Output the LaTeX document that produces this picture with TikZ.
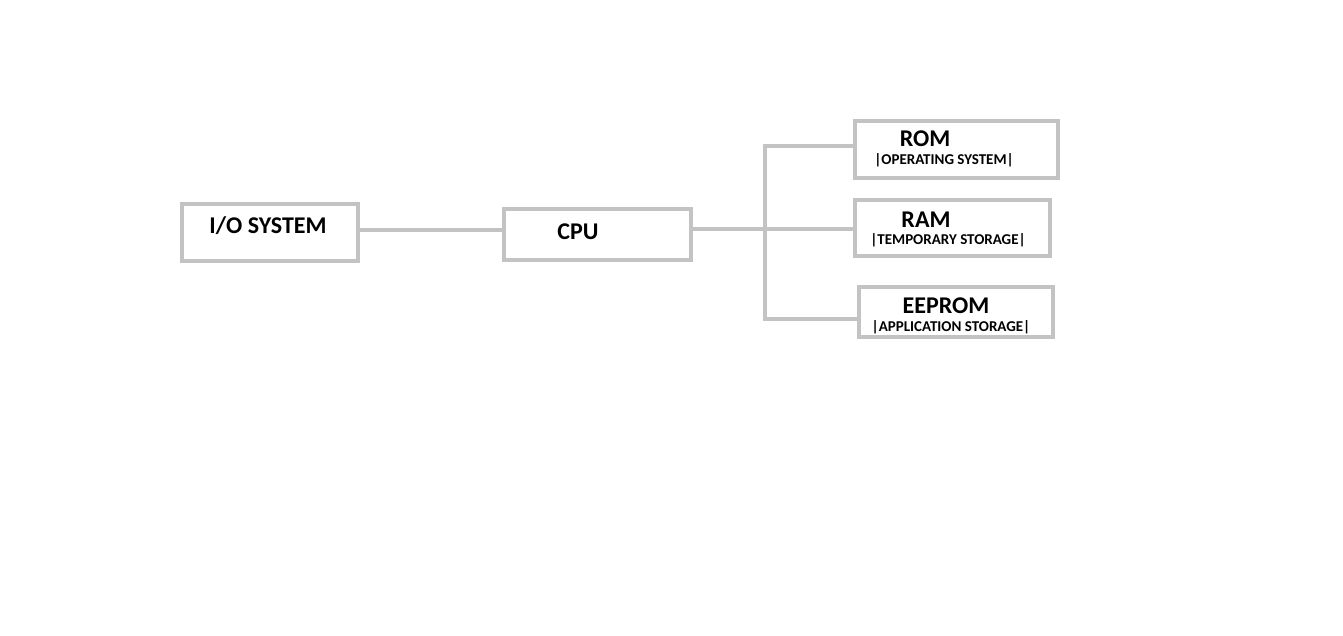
\documentclass[tikz,border=0pt]{standalone}
\usepackage{fontspec}
\setmainfont{Carlito}
\usepackage{tikz}
\definecolor{wiregray}{RGB}{195,195,195}

\begin{document}
\begin{tikzpicture}[x=1pt, y=-1pt,
box/.style={draw=wiregray, line width=4pt, inner sep=0pt},
wire/.style={draw=wiregray, line width=3.5pt},
bigtxt/.style={font=\fontsize{24}{27}\selectfont\bfseries, inner sep=0pt},
smalltxt/.style={font=\fontsize{15}{17}\selectfont\bfseries, inner sep=0pt},
]
\useasboundingbox (0,0) rectangle (1343,635);

% boxes
\node[box, minimum width=176pt, minimum height=57pt] (io) at (270,232.5) {};
\node[box, minimum width=187pt, minimum height=51pt] (cpu) at (597.5,234.5) {};
\node[box, minimum width=203pt, minimum height=57pt] (rom) at (956.5,149.5) {};
\node[box, minimum width=195pt, minimum height=56pt] (ram) at (952.5,228) {};
\node[box, minimum width=194pt, minimum height=50pt] (eeprom) at (956,312) {};

% texts
\node[bigtxt] (iotxt) at (268,226) {I/O SYSTEM};
\node[bigtxt] (cputxt) at (578,232) {CPU};
\node[bigtxt] (romtxt) at (925,139) {ROM};
\node[smalltxt] (romsub) at (944,160) {|OPERATING SYSTEM|};
\node[bigtxt] (ramtxt) at (926,219.5) {RAM};
\node[smalltxt] (ramsub) at (948,240.5) {|TEMPORARY STORAGE|};
\node[bigtxt] (eepromtxt) at (946,306) {EEPROM};
\node[smalltxt] (eepromsub) at (951,327) {|APPLICATION STORAGE|};

% connectors
\coordinate (bus) at (765,229);
\draw[wire] ([yshift=2.5pt]io.east) -- ([yshift=4.5pt]cpu.west);
\draw[wire] ([yshift=5.5pt]cpu.east) -- (bus);
\draw[wire] ([yshift=3.5pt]rom.west) -| (bus) |- ([yshift=-7pt]eeprom.west);
\draw[wire] (bus) -- (ram.west |- bus);

\end{tikzpicture}
\end{document}
